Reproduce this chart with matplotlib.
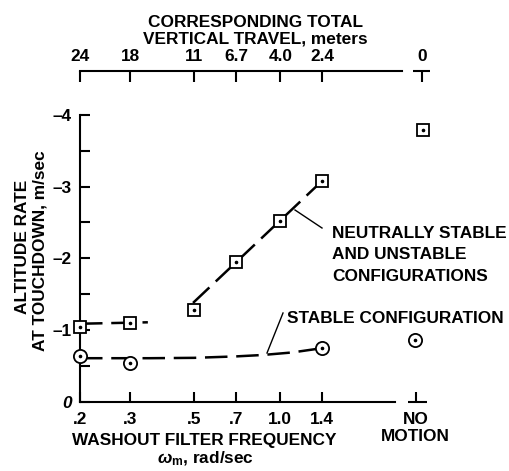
import matplotlib.pyplot as plt
from matplotlib.ticker import NullLocator
from matplotlib.lines import Line2D

plt.rcParams['font.family'] = ['Liberation Sans', 'DejaVu Sans']
plt.rcParams['font.weight'] = 'bold'
plt.rcParams['mathtext.fontset'] = 'custom'
plt.rcParams['mathtext.rm'] = 'Liberation Sans:bold'
plt.rcParams['mathtext.it'] = 'Liberation Sans:italic'

# washout filter frequency (rad/sec) vs altitude rate at touchdown (m/sec)
freq_sq = [0.2, 0.3, 0.5, 0.7, 1.0, 1.4]
rate_sq = [-1.05, -1.10, -1.28, -1.95, -2.52, -3.08]
freq_ci = [0.2, 0.3, 1.4]
rate_ci = [-0.64, -0.54, -0.75]
# "no motion" points, plotted right of the frequency range
nomo_sq_x, nomo_sq = 3.15, -3.79
nomo_ci_x, nomo_ci = 2.95, -0.86

# faired lines
fair_lo_x = [0.2, 0.345]
fair_lo_y = [-1.09, -1.11]
fair_hi_x = [0.496, 1.4]
fair_hi_y = [-1.38, -3.08]
fair_st_x = [0.2, 0.35, 0.5, 0.7, 0.87, 1.1, 1.4]
fair_st_y = [-0.61, -0.61, -0.615, -0.635, -0.655, -0.69, -0.75]

bottom_ticks = [0.2, 0.3, 0.5, 0.7, 1.0, 1.4, 2.97]
bottom_labels = ['.2', '.3', '.5', '.7', '1.0', '1.4', 'NO\nMOTION']
top_ticks = [0.2, 0.3, 0.5, 0.7, 1.0, 1.4, 3.12]
top_labels = ['24', '18', '11', '6.7', '4.0', '2.4', '0']
y_ticks = [0, -1, -2, -3, -4]
y_labels = ['0', '\u20131', '\u20132', '\u20133', '\u20134']

W, H = 509, 471
FS = 12.4
fig = plt.figure(figsize=(W / 100, H / 100), dpi=100)


def px(x, y):
    return x / W, 1 - y / H


ax = fig.add_axes([80 / W, 1 - 402 / H, 350 / W, 331 / H])
ax.set_xscale('log')
ax.set_xlim(0.2, 3.33)
ax.set_ylim(0, -4.61)

lw_ax = 1.5
for s in ['top', 'right']:
    ax.spines[s].set_visible(False)
ax.spines['left'].set_bounds(-4, 0)
ax.spines['bottom'].set_bounds(0.2, 2.51)
ax.spines['left'].set_linewidth(lw_ax)
ax.spines['bottom'].set_linewidth(lw_ax)
ax.plot([2.79, 3.25], [0, 0], transform=ax.get_xaxis_transform(),
        color='k', lw=lw_ax, clip_on=False, solid_capstyle='butt')

ax.set_xticks(bottom_ticks, bottom_labels)
ax.xaxis.set_minor_locator(NullLocator())
ax.tick_params(axis='x', direction='in', length=7.5, width=lw_ax,
               pad=7, labelsize=FS)
ax.set_yticks(y_ticks, y_labels)
ax.set_yticks([-0.5, -1.5, -2.5, -3.5], minor=True)
ax.tick_params(axis='y', which='both', direction='in', length=7.5,
               width=lw_ax, pad=6, labelsize=FS)
ax.get_yticklabels()[0].set_style('italic')

ax2 = ax.twiny()
ax2.set_xscale('log')
ax2.set_xlim(0.2, 3.33)
for s in ['left', 'right', 'bottom']:
    ax2.spines[s].set_visible(False)
ax2.spines['top'].set_bounds(0.2, 2.66)
ax2.spines['top'].set_linewidth(lw_ax)
ax2.plot([2.90, 3.33], [1, 1], transform=ax2.get_xaxis_transform(),
         color='k', lw=lw_ax, clip_on=False, solid_capstyle='butt')
ax2.set_xticks(top_ticks, top_labels)
ax2.xaxis.set_minor_locator(NullLocator())
ax2.tick_params(axis='x', direction='in', length=8, width=lw_ax,
                pad=5, labelsize=FS)

# faired dashed lines
dash = dict(color='k', lw=1.8, dashes=(9, 3.5), clip_on=False, zorder=2)
ax.plot(fair_lo_x, fair_lo_y, **dash)
ax.plot(fair_hi_x, fair_hi_y, **dash)
ax.plot(fair_st_x, fair_st_y, **dash)

sq = dict(marker='s', ms=9, mfc='white', mec='k', mew=1.3, ls='none',
          clip_on=False, zorder=4)
ci = dict(marker='o', ms=9.5, mfc='white', mec='k', mew=1.3, ls='none',
          clip_on=False, zorder=4)
dot = dict(marker='o', ms=1.6, color='k', ls='none', clip_on=False, zorder=5)
ax.plot(freq_sq + [nomo_sq_x], rate_sq + [nomo_sq], **sq)
ax.plot(freq_sq + [nomo_sq_x], rate_sq + [nomo_sq], **dot)
ax.plot(freq_ci + [nomo_ci_x], rate_ci + [nomo_ci], **ci)
ax.plot(freq_ci + [nomo_ci_x], rate_ci + [nomo_ci], **dot)

txt = dict(fontsize=FS, va='baseline')
fig.text(*px(255, 27), 'CORRESPONDING TOTAL', ha='center', **txt)
fig.text(*px(255, 43), 'VERTICAL TRAVEL, meters', ha='center', **txt)
fig.text(*px(204, 445), 'WASHOUT FILTER FREQUENCY', ha='center', **txt)
fig.text(*px(206, 463), r'$\omega_{\rm m}$, rad/sec', ha='center', **txt)
fig.text(*px(27, 246.5), 'ALTITUDE RATE', ha='center', rotation=90,
         rotation_mode='anchor', **txt)
fig.text(*px(45, 251), 'AT TOUCHDOWN, m/sec', ha='center', rotation=90,
         rotation_mode='anchor', **txt)

fig.text(*px(332, 238.5), 'NEUTRALLY STABLE', ha='left', **txt)
fig.text(*px(332, 259), 'AND UNSTABLE', ha='left', **txt)
fig.text(*px(332, 280.7), 'CONFIGURATIONS', ha='left', **txt)
fig.text(*px(287, 323), 'STABLE CONFIGURATION', ha='left', **txt)

for (x0, y0), (x1, y1) in [((295, 210), (322, 228)), ((283, 313), (267, 353))]:
    fig.add_artist(Line2D([x0 / W, x1 / W], [1 - y0 / H, 1 - y1 / H],
                          color='k', lw=1.0))

fig.savefig('out.png', dpi=100)
